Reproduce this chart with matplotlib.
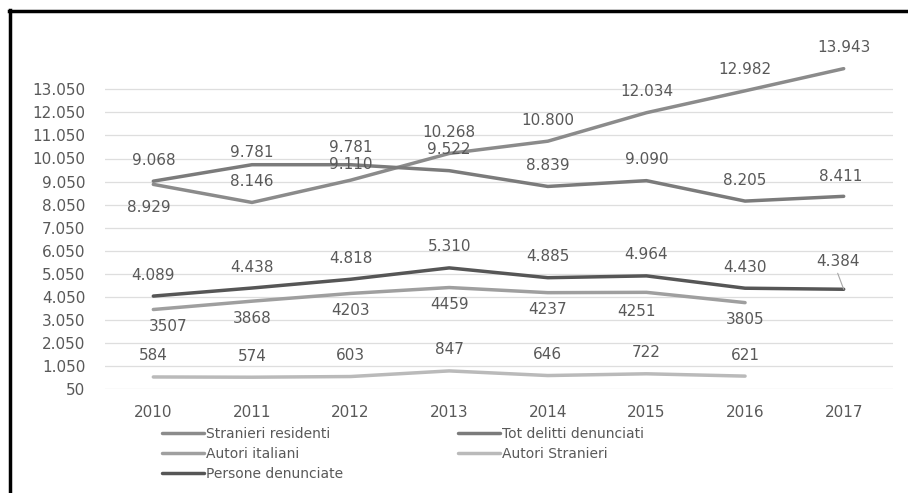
import matplotlib
matplotlib.use("Agg")
import matplotlib.pyplot as plt
from matplotlib.lines import Line2D

years = ["2010", "2011", "2012", "2013", "2014", "2015", "2016", "2017"]
stranieri_residenti = [8929, 8146, 9110, 10268, 10800, 12034, 12982, 13943]
tot_delitti = [9068, 9781, 9781, 9522, 8839, 9090, 8205, 8411]
autori_italiani = [3507, 3868, 4203, 4459, 4237, 4251, 3805]
autori_stranieri = [584, 574, 603, 847, 646, 722, 621]
persone_denunciate = [4089, 4438, 4818, 5310, 4885, 4964, 4430, 4384]
yticks = list(range(50, 13051, 1000))

def dotted(v):
    return f"{v:,}".replace(",", ".")

TXT = "#595959"
FONT = "DejaVu Sans"
plt.rcParams["font.family"] = [FONT]

fig = plt.figure(figsize=(9.08, 4.93), dpi=100)
ax = fig.add_axes([105 / 908, (493 - 389.3) / 493, (893 - 105) / 908, (389.3 - 43.1) / 493])
ax.set_xlim(-0.49, 7.5)
ax.set_ylim(50, 15050)

series = [
    ("Stranieri residenti", stranieri_residenti, "#8b8b8b", True),
    ("Tot delitti denunciati", tot_delitti, "#7b7b7b", True),
    ("Autori italiani", autori_italiani, "#9f9f9f", False),
    ("Autori Stranieri", autori_stranieri, "#bababa", False),
    ("Persone denunciate", persone_denunciate, "#565656", True),
]

handles = {}
for name, vals, col, dots in series:
    x = list(range(len(vals)))
    (h,) = ax.plot(x, vals, color=col, lw=2.5, solid_capstyle="round", zorder=3)
    handles[name] = h

# data labels: offsets in pixels (dx, dy)
def label(vals, dots, offs):
    for i, v in enumerate(vals):
        dx, dy = offs.get(i, offs["default"])
        ax.annotate(dotted(v) if dots else str(v), (i, v), xytext=(dx, dy),
                    textcoords="offset pixels", ha="center", va="center",
                    fontsize=11, color=TXT, zorder=5, annotation_clip=False)

label(stranieri_residenti, True, {"default": (0, 21), 0: (-5, -23), 2: (0, 16)})
label(tot_delitti, True, {"default": (0, 21), 1: (0, 12), 2: (0, 17), 7: (-3, 20)})
label(autori_italiani, False, {"default": (0, -17), 0: (15, -17), 5: (-10, -19)})
label(autori_stranieri, False, {"default": (0, 21)})
label(persone_denunciate, True, {"default": (0, 21), 7: (-6, 28)})
# leader line for 4.384
ax.annotate("", (7, persone_denunciate[7]), xytext=(-6, 16), textcoords="offset pixels",
            arrowprops=dict(arrowstyle="-", color="#a6a6a6", lw=0.8, shrinkA=0, shrinkB=0))

ax.set_yticks(yticks)
ax.set_yticklabels([dotted(t) for t in yticks])
ax.set_xticks(range(len(years)))
ax.set_xticklabels(years)
ax.tick_params(length=0, labelsize=11, labelcolor=TXT)
ax.tick_params(axis="y", pad=14)
ax.tick_params(axis="x", pad=11)
for s in ax.spines.values():
    s.set_visible(False)
for t in yticks:
    ax.axhline(t, color="#dedede", lw=0.9, zorder=1)

order = ["Stranieri residenti", "Autori italiani", "Persone denunciate",
         "Tot delitti denunciati", "Autori Stranieri"]
leg = fig.legend([handles[n] for n in order], order, ncol=2, loc="upper left",
                 bbox_to_anchor=(151 / 908, 1 - 416 / 493), frameon=False,
                 fontsize=10, labelcolor=TXT, handlelength=3.0, handletextpad=0.15,
                 columnspacing=8.3, labelspacing=0.42, borderpad=0.3)

# outer frame (left and top)
fig.add_artist(Line2D([10 / 908, 10 / 908], [0, 1 - 10 / 493], color="black", lw=2.5,
                      transform=fig.transFigure))
fig.add_artist(Line2D([9 / 908, 1], [1 - 11 / 493, 1 - 11 / 493], color="black", lw=2.5,
                      transform=fig.transFigure))

fig.savefig("out.png", dpi=100)
